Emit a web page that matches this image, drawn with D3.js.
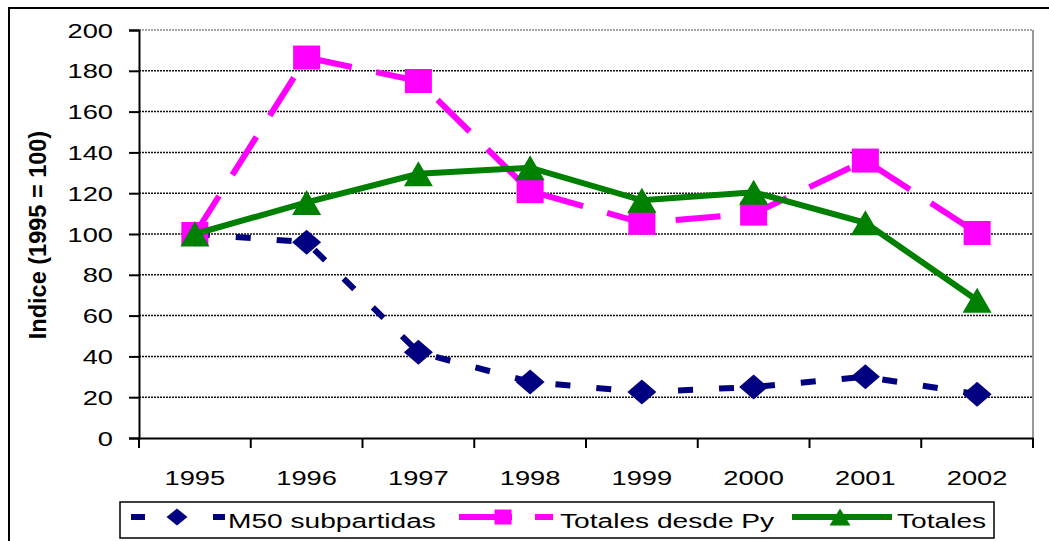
<!DOCTYPE html>
<html><head><meta charset="utf-8">
<script src="https://cdn.jsdelivr.net/npm/d3@7"></script>
<style>html,body{margin:0;padding:0;background:#fff;}svg{display:block;font-family:"Liberation Sans",Arial,sans-serif;}</style>
</head><body>
<svg id="c" width="1049" height="541"></svg>
<script>
const years = ["1995","1996","1997","1998","1999","2000","2001","2002"];
const m50 = [100, 96, 42, 27.5, 22.5, 25, 30, 21.5];
const totalesPy = [100, 186.5, 175, 121, 105.5, 110, 136, 100.5];
const totales = [100, 115.5, 129.5, 132.5, 116.5, 120.5, 105.5, 67.5];
const yTicks = [0,20,40,60,80,100,120,140,160,180,200];
const seriesNames = ["M50 subpartidas","Totales desde Py","Totales"];
const yTitle = "Indice (1995 = 100)";

const svg = d3.select("#c");
const SX = 1.3, SXL = 1.34, FS = 21;
const L = 139, R = 1033, T = 30, B = 438;
const x = d3.scaleBand().domain(years).range([L, R]).padding(0);
const y = d3.scaleLinear().domain([0, 200]).range([B, T]);
const cx = d => x(d) + x.bandwidth() / 2;

// outer frame
svg.append("rect").attr("x", 9).attr("y", 8).attr("width", 1080).attr("height", 600)
  .attr("fill", "#fff").attr("stroke", "#000").attr("stroke-width", 2);

// gridlines
svg.append("g").selectAll("line").data(yTicks.filter(v => v > 0)).join("line")
  .attr("x1", L).attr("x2", R).attr("y1", d => y(d)).attr("y2", d => y(d))
  .attr("stroke", d => d === 200 ? "#888" : "#111").attr("stroke-width", 1.5)
  .attr("stroke-dasharray", "2,1");
// right border
svg.append("line").attr("x1", R).attr("x2", R).attr("y1", T).attr("y2", B)
  .attr("stroke", "#999").attr("stroke-width", 2);

// axes
const ay = svg.append("g").attr("transform", `translate(${L},0)`)
  .call(d3.axisLeft(y).tickValues(yTicks).tickSize(10).tickFormat(""));
const ax = svg.append("g").attr("transform", `translate(0,${B})`)
  .call(d3.axisBottom(x).tickSize(0).tickFormat(""));
[ay, ax].forEach(g => { g.selectAll("path,line").attr("stroke", "#000").attr("stroke-width", 2); });
// x ticks at category boundaries
svg.append("g").selectAll("line").data(years.concat(["end"])).join("line")
  .attr("x1", (d, i) => L + i * x.bandwidth()).attr("x2", (d, i) => L + i * x.bandwidth())
  .attr("y1", B).attr("y2", B + 10).attr("stroke", "#000").attr("stroke-width", 2);

// tick labels
svg.append("g").selectAll("text").data(yTicks).join("text")
  .attr("transform", d => `translate(${L - 26},${y(d) + 7.5}) scale(${SX},1)`)
  .attr("text-anchor", "end").attr("font-size", FS).attr("fill", "#000").text(d => d);
svg.append("g").selectAll("text").data(years).join("text")
  .attr("transform", d => `translate(${cx(d)},${485}) scale(${SX},1)`)
  .attr("text-anchor", "middle").attr("font-size", FS).attr("fill", "#000").text(d => d);

// y title
svg.append("text").attr("transform", "translate(46,235) rotate(-90)")
  .attr("text-anchor", "middle").attr("font-size", 23.5).attr("font-weight", "bold").text(yTitle);

// markers
function marker(g, type, px, py, w, h, col) {
  if (type === "diamond") {
    g.append("path").attr("d", `M${px},${py - h / 2}L${px + w / 2},${py}L${px},${py + h / 2}L${px - w / 2},${py}Z`).attr("fill", col);
  } else if (type === "square") {
    g.append("rect").attr("x", px - w / 2).attr("y", py - h / 2).attr("width", w).attr("height", h).attr("fill", col);
  } else {
    g.append("path").attr("d", `M${px},${py - h / 2}L${px + w / 2},${py + h / 2}L${px - w / 2},${py + h / 2}Z`).attr("fill", col);
  }
}

const series = [
  {vals: m50, col: "#000080", dash: "15,26", type: "diamond", w: 29, h: 25},
  {vals: totalesPy, col: "#FF00FF", dash: "45,25", type: "square", w: 27, h: 24},
  {vals: totales, col: "#008000", dash: null, type: "triangle", w: 29, h: 25}
];
const line = d3.line().x((d, i) => cx(years[i])).y(d => y(d));
series.forEach(s => {
  const g = svg.append("g");
  g.append("path").attr("d", line(s.vals)).attr("fill", "none").attr("stroke", s.col)
    .attr("stroke-width", 6).attr("stroke-dasharray", s.dash);
  s.vals.forEach((v, i) => marker(g, s.type, cx(years[i]), y(v), s.w, s.h, s.col));
});

// legend
const lg = svg.append("g");
lg.append("rect").attr("x", 120).attr("y", 502).attr("width", 874).attr("height", 36)
  .attr("fill", "#fff").attr("stroke", "#000").attr("stroke-width", 1.5);
const ly = 517;
const leg = [
  {x0: 131, x1: 225, dash: "14,68", tx: 228, mx: 177, w: 21, h: 17},
  {x0: 459, x1: 553, dash: "53,23", tx: 560, mx: 503, w: 17, h: 15},
  {x0: 792, x1: 892, dash: null, tx: 897, mx: 840, w: 21, h: 17}
];
series.forEach((s, i) => {
  const l = leg[i];
  lg.append("line").attr("x1", l.x0).attr("x2", l.x1).attr("y1", ly).attr("y2", ly)
    .attr("stroke", s.col).attr("stroke-width", 6).attr("stroke-dasharray", l.dash);
  marker(lg, s.type, l.mx, ly, l.w, l.h, s.col);
  lg.append("text").attr("transform", `translate(${l.tx},528) scale(${SXL},1)`)
    .attr("font-size", FS).attr("fill", "#000").text(seriesNames[i]);
});
</script>
</body></html>
